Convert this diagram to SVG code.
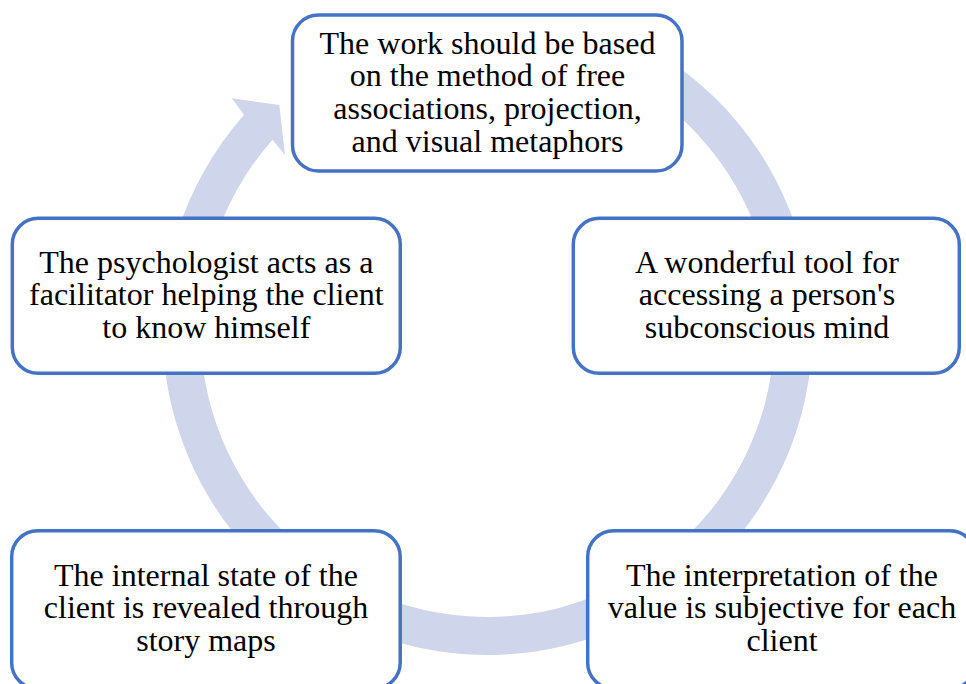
<svg xmlns="http://www.w3.org/2000/svg" width="966" height="684" viewBox="0 0 966 684">
<style>
.box{fill:#ffffff;stroke:#4472C4;stroke-width:3.5}
.t{font-family:"Liberation Serif","Times New Roman",serif;font-size:32px;fill:#000000;text-anchor:middle}
.ring{fill:#CFD5EA;stroke:none}
</style>
<rect x="0" y="0" width="966" height="684" fill="#ffffff"/>
<g id="connectors">
<path class="ring" d="M 598.7 24.6 A 325 325 0 1 1 244.1 114.7 L 231.7 98.3 L 279.3 105 L 285 155 L 272.5 139.8 A 287 287 0 1 0 585.7 60.3 Z"/>
</g>
<g id="node-top">
<rect class="box" x="292.5" y="15" width="389.5" height="156" rx="26" ry="26"/>
<text class="t"><tspan x="487.5" y="53.5">The work should be based</tspan><tspan x="487.5" y="86.2">on the method of free</tspan><tspan x="487.5" y="118.9">associations, projection,</tspan><tspan x="487.5" y="151.6">and visual metaphors</tspan></text>
</g>
<g id="node-right">
<rect class="box" x="573.3" y="218.3" width="386" height="155" rx="26" ry="26"/>
<text class="t"><tspan x="767" y="273">A wonderful tool for</tspan><tspan x="767" y="305.3">accessing a person's</tspan><tspan x="767" y="337.6">subconscious mind</tspan></text>
</g>
<g id="node-bottom-right">
<rect class="box" x="587.7" y="530.7" width="388" height="158" rx="26" ry="26"/>
<text class="t"><tspan x="782" y="586">The interpretation of the</tspan><tspan x="782" y="618.3">value is subjective for each</tspan><tspan x="782" y="650.6">client</tspan></text>
</g>
<g id="node-bottom-left">
<rect class="box" x="11.7" y="530.7" width="388.5" height="158" rx="26" ry="26"/>
<text class="t"><tspan x="206" y="586">The internal state of the</tspan><tspan x="206" y="618.3">client is revealed through</tspan><tspan x="206" y="650.6">story maps</tspan></text>
</g>
<g id="node-left">
<rect class="box" x="12.3" y="218.3" width="388" height="155" rx="26" ry="26"/>
<text class="t"><tspan x="206.3" y="273">The psychologist acts as a</tspan><tspan x="206.3" y="305.3">facilitator helping the client</tspan><tspan x="206.3" y="337.6">to know himself</tspan></text>
</g>
</svg>
